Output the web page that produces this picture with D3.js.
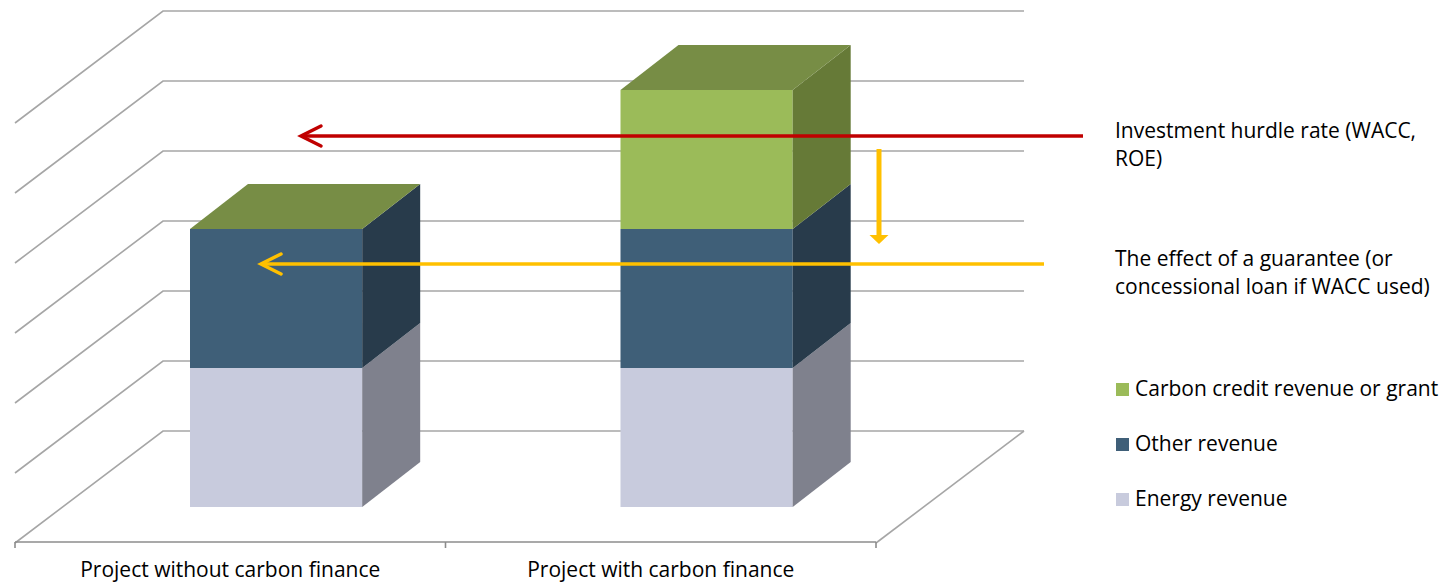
<!DOCTYPE html>
<html><head><meta charset="utf-8">
<script src="https://cdn.jsdelivr.net/npm/d3@7"></script>
<style>
html,body{margin:0;padding:0;background:#fff;}
svg{display:block;}
text{font-family:"Open Sans",Lato,sans-serif;fill:#000;}
</style></head>
<body>
<svg id="chart" width="1450" height="584"></svg>
<script>
// ---- data ----
const categories = ["Project without carbon finance", "Project with carbon finance"];
const seriesNames = ["Energy revenue", "Other revenue", "Carbon credit revenue or grant"];
const energyRevenue = [2, 2];
const otherRevenue = [2, 2];
const carbonRevenue = [0, 2];
const gridTicks = [0, 1, 2, 3, 4, 5, 6];
const hurdleLabel = ["Investment hurdle rate (WACC,", "ROE)"];
const guaranteeLabel = ["The effect of a guarantee (or", "concessional loan if WACC used)"];

// ---- styles ----
const frontColors = ["#C8CBDD", "#3F5F78", "#9BBB59"];
const sideColors  = ["#7F818D", "#283B4B", "#667A37"];
const topColor = "#778D45";
const gridColor = "#A6A6A6";
const fs = 21;

const svg = d3.select("#chart");

// geometry
const floorDX = 148, floorDY = -112;   // full depth offset
const barDX = 58, barDY = -45;         // bar depth offset
const xFront = d3.scaleBand().domain(categories).range([15, 876]).padding(0);
const yWall = d3.scaleLinear().domain([0, 6]).range([431, 11]);
const yBar = d3.scaleLinear().domain([0, 6]).range([507, 90]);

// ---- back wall gridlines ----
const g = svg.append("g");
gridTicks.forEach(t => {
  const y = yWall(t);
  g.append("path")
    .attr("d", `M15,${y - floorDY} L${15 + floorDX},${y} L${876 + floorDX},${y}`)
    .attr("fill", "none").attr("stroke", gridColor).attr("stroke-width", 1.6);
});
// floor right edge and front axis
g.append("line").attr("x1", 876 + floorDX).attr("y1", yWall(0)).attr("x2", 876).attr("y2", yWall(0) - floorDY)
  .attr("stroke", gridColor).attr("stroke-width", 1.6);
const axisG = svg.append("g").attr("transform", `translate(0,${yWall(0) - floorDY - 1})`);
axisG.append("line").attr("x1", 15).attr("x2", 876).attr("stroke", "#8C8C8C").attr("stroke-width", 1.6);
[15, xFront(categories[1]), 876].forEach(x => {
  axisG.append("line").attr("x1", x).attr("x2", x).attr("y1", 0).attr("y2", 6)
    .attr("stroke", "#8C8C8C").attr("stroke-width", 1.6);
});
categories.forEach(c => {
  axisG.append("text").attr("x", xFront(c) + xFront.bandwidth() / 2).attr("y", 35)
    .attr("text-anchor", "middle").attr("font-size", fs).text(c);
});

// ---- bars ----
const stacks = categories.map((c, i) => [energyRevenue[i], otherRevenue[i], carbonRevenue[i]]);
const barsG = svg.append("g");
categories.forEach((c, i) => {
  const x0 = xFront(c) + xFront.bandwidth() * 0.4065;
  const w = xFront.bandwidth() * 0.4;
  let base = 0;
  stacks[i].forEach((v, s) => {
    if (v <= 0) return;
    const yb = yBar(base), yt = yBar(base + v);
    barsG.append("rect").attr("x", x0).attr("y", yt).attr("width", w).attr("height", yb - yt)
      .attr("fill", frontColors[s]);
    barsG.append("path")
      .attr("d", `M${x0 + w},${yb} L${x0 + w},${yt} L${x0 + w + barDX},${yt + barDY} L${x0 + w + barDX},${yb + barDY} Z`)
      .attr("fill", sideColors[s]);
    base += v;
  });
  const yt = yBar(base);
  barsG.append("path")
    .attr("d", `M${x0},${yt} L${x0 + barDX},${yt + barDY} L${x0 + w + barDX},${yt + barDY} L${x0 + w},${yt} Z`)
    .attr("fill", topColor);
});

// ---- arrows ----
const ann = svg.append("g");
function hArrow(y, x1, x2, color) {
  ann.append("line").attr("x1", x1).attr("x2", x2).attr("y1", y).attr("y2", y)
    .attr("stroke", color).attr("stroke-width", 3.5);
  ann.append("path").attr("d", `M${x2 + 20},${y - 10} L${x2},${y} L${x2 + 20},${y + 10}`)
    .attr("fill", "none").attr("stroke", color).attr("stroke-width", 3.5)
    .attr("stroke-linecap", "round").attr("stroke-linejoin", "miter");
}
hArrow(136, 1083, 301, "#C00000");
hArrow(264, 1044, 261, "#FFC000");
ann.append("line").attr("x1", 879).attr("x2", 879).attr("y1", 149).attr("y2", 236)
  .attr("stroke", "#FFC000").attr("stroke-width", 5);
ann.append("path").attr("d", "M869.5,235 L888.5,235 L879,244 Z").attr("fill", "#FFC000");

// ---- annotation texts ----
const tG = svg.append("g");
hurdleLabel.forEach((t, i) => tG.append("text").attr("x", 1115).attr("y", 138 + i * 28).attr("font-size", fs).text(t));
guaranteeLabel.forEach((t, i) => tG.append("text").attr("x", 1115).attr("y", 266 + i * 28).attr("font-size", fs).text(t));

// ---- legend ----
const legendOrder = [2, 1, 0];
legendOrder.forEach((s, k) => {
  const y = 383 + k * 55;
  tG.append("rect").attr("x", 1116).attr("y", y).attr("width", 13).attr("height", 13).attr("fill", frontColors[s]);
  tG.append("text").attr("x", 1135).attr("y", y + 13).attr("font-size", fs).text(seriesNames[s]);
});
</script>
</body></html>
